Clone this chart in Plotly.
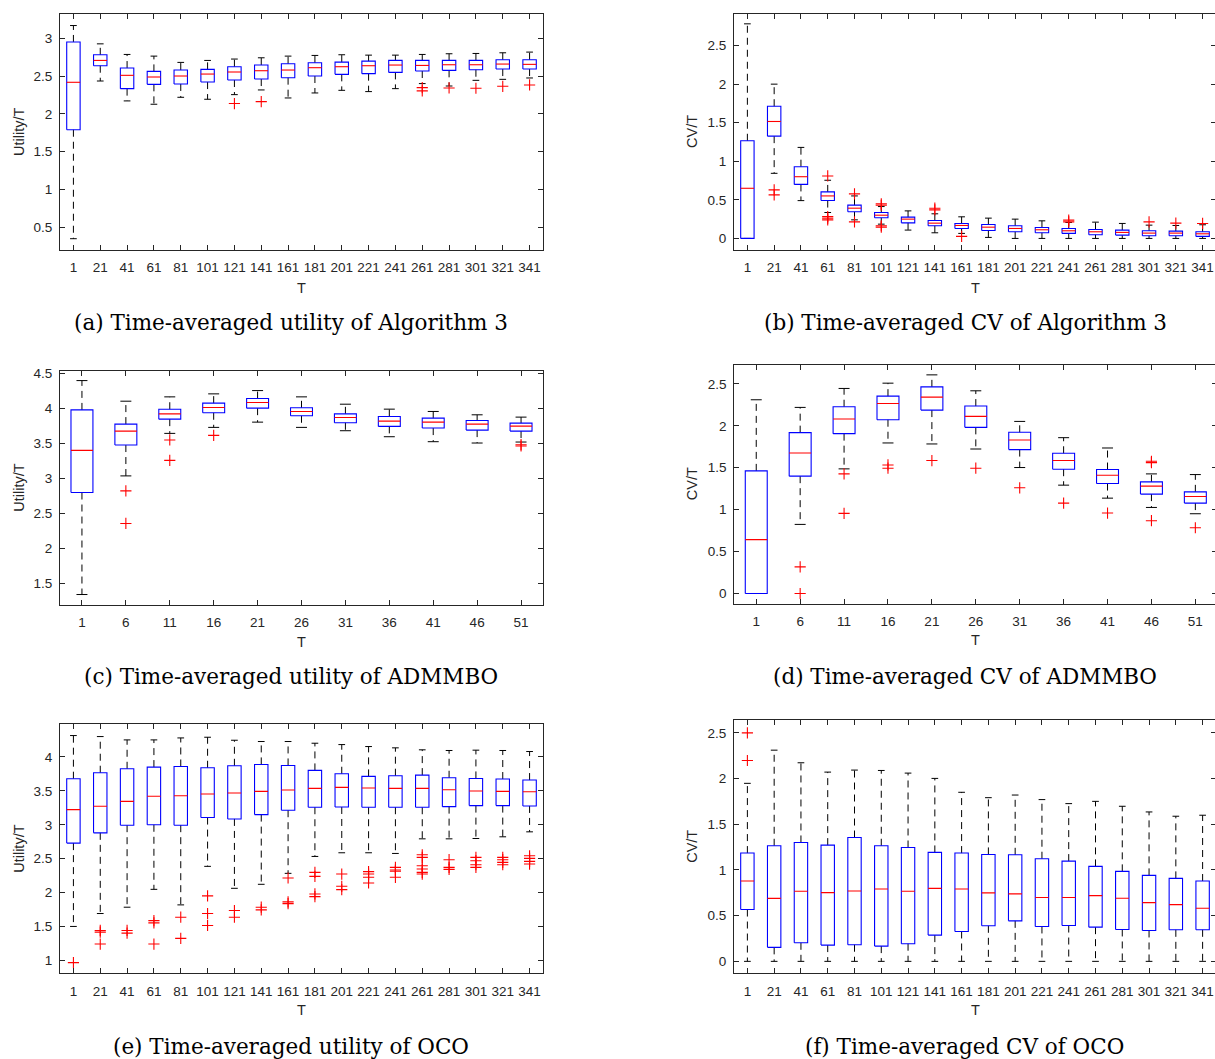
import plotly.graph_objects as go

# ---------------- data ----------------
T_LONG = ["1", "21", "41", "61", "81", "101", "121", "141", "161", "181",
          "201", "221", "241", "261", "281", "301", "321", "341"]
T_SHORT = ["1", "6", "11", "16", "21", "26", "31", "36", "41", "46", "51"]

# (a) Time-averaged utility of Algorithm 3
a_hi = [3.167, 2.925, 2.785, 2.763, 2.68, 2.706, 2.724, 2.741, 2.763, 2.772, 2.781, 2.776, 2.776, 2.785, 2.794, 2.798, 2.807, 2.816]
a_q3 = [2.95, 2.78, 2.605, 2.561, 2.579, 2.588, 2.623, 2.645, 2.662, 2.675, 2.684, 2.697, 2.706, 2.706, 2.706, 2.706, 2.715, 2.715]
a_med = [2.417, 2.706, 2.509, 2.487, 2.50, 2.526, 2.553, 2.57, 2.579, 2.61, 2.623, 2.636, 2.645, 2.64, 2.649, 2.649, 2.658, 2.654]
a_q1 = [1.79, 2.636, 2.333, 2.39, 2.395, 2.42, 2.447, 2.46, 2.478, 2.5, 2.522, 2.531, 2.548, 2.566, 2.575, 2.583, 2.592, 2.592]
a_lo = [0.35, 2.434, 2.171, 2.127, 2.219, 2.193, 2.254, 2.316, 2.21, 2.276, 2.311, 2.294, 2.333, 2.40, 2.368, 2.443, 2.456, 2.474]
a_out = [[], [], [], [], [], [], [2.136], [2.162], [], [], [], [], [], [2.346, 2.303], [2.342], [2.338], [2.364], [2.382]]

# (b) Time-averaged CV of Algorithm 3
b_hi = [2.782, 2.0, 1.18, 0.754, 0.551, 0.413, 0.357, 0.319, 0.28, 0.263, 0.25, 0.228, 0.207, 0.211, 0.194, 0.172, 0.168, 0.177]
b_q3 = [1.266, 1.714, 0.93, 0.603, 0.431, 0.336, 0.276, 0.233, 0.194, 0.181, 0.164, 0.142, 0.129, 0.116, 0.108, 0.099, 0.095, 0.086]
b_med = [0.65, 1.516, 0.80, 0.551, 0.392, 0.301, 0.25, 0.198, 0.168, 0.146, 0.129, 0.112, 0.099, 0.086, 0.078, 0.069, 0.069, 0.06]
b_q1 = [0.0, 1.326, 0.70, 0.491, 0.345, 0.267, 0.202, 0.164, 0.129, 0.103, 0.086, 0.073, 0.065, 0.047, 0.043, 0.034, 0.034, 0.026]
b_lo = [0.0, 0.844, 0.49, 0.336, 0.241, 0.185, 0.108, 0.073, 0.065, 0.013, 0.0, 0.0, 0.0, 0.0, 0.0, 0.0, 0.0, 0.0]
b_out = [[], [0.629, 0.564], [], [0.81, 0.284, 0.263, 0.241], [0.577, 0.215], [0.448, 0.43, 0.164, 0.146], [],
         [0.392, 0.37], [0.026], [], [], [], [0.237, 0.215], [], [], [0.215], [0.198], [0.194]]

# (c) Time-averaged utility of ADMMBO
c_hi = [4.40, 4.105, 4.167, 4.21, 4.257, 4.167, 4.062, 3.991, 3.958, 3.91, 3.877]
c_q3 = [3.98, 3.777, 3.99, 4.077, 4.143, 4.01, 3.924, 3.886, 3.862, 3.829, 3.791]
c_med = [3.40, 3.677, 3.924, 4.015, 4.086, 3.958, 3.872, 3.82, 3.805, 3.777, 3.748]
c_q1 = [2.797, 3.477, 3.848, 3.939, 4.005, 3.896, 3.796, 3.744, 3.72, 3.691, 3.677]
c_lo = [1.336, 3.035, 3.644, 3.73, 3.805, 3.73, 3.682, 3.596, 3.525, 3.506, 3.52]
c_out = [[], [2.82, 2.354], [3.55, 3.258], [3.615], [], [], [], [], [], [], [3.482, 3.463]]

# (d) Time-averaged CV of ADMMBO
d_hi = [2.31, 2.219, 2.445, 2.508, 2.607, 2.417, 2.052, 1.858, 1.735, 1.426, 1.418]
d_q3 = [1.462, 1.918, 2.227, 2.353, 2.464, 2.235, 1.922, 1.672, 1.478, 1.331, 1.212]
d_med = [0.642, 1.676, 2.08, 2.266, 2.342, 2.112, 1.83, 1.585, 1.41, 1.28, 1.157]
d_q1 = [0.0, 1.399, 1.906, 2.072, 2.187, 1.981, 1.716, 1.482, 1.311, 1.185, 1.078]
d_lo = [0.0, 0.824, 1.486, 1.795, 1.783, 1.723, 1.502, 1.292, 1.137, 1.026, 0.951]
d_out = [[], [0.317, 0.0], [1.426, 0.955], [1.533, 1.494], [1.585], [1.494], [1.26], [1.078], [0.959],
         [1.577, 1.561, 0.868], [0.784]]

# (e) Time-averaged utility of OCO
e_hi = [4.313, 4.298, 4.249, 4.249, 4.278, 4.288, 4.244, 4.225, 4.225, 4.2, 4.18, 4.151, 4.132, 4.103, 4.093, 4.098, 4.093, 4.078]
e_q3 = [3.678, 3.766, 3.824, 3.849, 3.858, 3.839, 3.868, 3.888, 3.873, 3.8, 3.751, 3.712, 3.722, 3.731, 3.692, 3.682, 3.673, 3.658]
e_med = [3.223, 3.272, 3.345, 3.419, 3.428, 3.453, 3.467, 3.492, 3.511, 3.536, 3.551, 3.541, 3.536, 3.536, 3.516, 3.497, 3.492, 3.487]
e_q1 = [2.73, 2.881, 2.994, 3.0, 2.994, 3.106, 3.086, 3.15, 3.214, 3.258, 3.262, 3.258, 3.258, 3.258, 3.267, 3.282, 3.282, 3.277]
e_lo = [1.504, 1.694, 1.787, 2.05, 1.821, 2.388, 2.065, 2.124, 2.285, 2.534, 2.588, 2.588, 2.578, 2.793, 2.793, 2.798, 2.823, 2.896]
e_out = [[0.971], [1.445, 1.42, 1.245], [1.445, 1.406], [1.59, 1.556, 1.245], [1.64, 1.328], [1.953, 1.694, 1.518],
         [1.738, 1.64], [1.787, 1.748], [2.217, 1.865, 1.84], [2.3, 2.241, 1.982, 1.943], [2.275, 2.095, 2.046],
         [2.31, 2.275, 2.227, 2.144], [2.373, 2.334, 2.315, 2.227], [2.559, 2.52, 2.398, 2.349, 2.3, 2.275],
         [2.486, 2.373, 2.344], [2.52, 2.471, 2.412, 2.373], [2.52, 2.486, 2.447, 2.412], [2.544, 2.505, 2.461, 2.422]]

# (f) Time-averaged CV of OCO
f_hi = [1.948, 2.311, 2.173, 2.071, 2.093, 2.089, 2.06, 2.002, 1.85, 1.791, 1.82, 1.77, 1.726, 1.751, 1.697, 1.635, 1.588, 1.599]
f_q3 = [1.185, 1.265, 1.301, 1.272, 1.355, 1.265, 1.246, 1.192, 1.185, 1.17, 1.166, 1.123, 1.097, 1.039, 0.985, 0.941, 0.908, 0.879]
f_med = [0.879, 0.689, 0.767, 0.752, 0.77, 0.792, 0.767, 0.799, 0.792, 0.749, 0.738, 0.698, 0.698, 0.719, 0.69, 0.643, 0.621, 0.581]
f_q1 = [0.567, 0.153, 0.203, 0.178, 0.182, 0.167, 0.193, 0.287, 0.327, 0.389, 0.443, 0.382, 0.392, 0.374, 0.349, 0.338, 0.345, 0.345]
f_lo = [0.0, 0.0, 0.0, 0.0, 0.0, 0.0, 0.0, 0.0, 0.0, 0.0, 0.0, 0.0, 0.0, 0.0, 0.0, 0.0, 0.0, 0.0]
f_out = [[2.5, 2.198], [], [], [], [], [], [], [], [], [], [], [], [], [], [], [], [], []]

Y_UTIL_A = [0.5, 1, 1.5, 2, 2.5, 3]
Y_UTIL_C = [1.5, 2, 2.5, 3, 3.5, 4, 4.5]
Y_UTIL_E = [1, 1.5, 2, 2.5, 3, 3.5, 4]
Y_CV = [0, 0.5, 1, 1.5, 2, 2.5]

CAPTIONS = ["(a) Time-averaged utility of Algorithm 3", "(b) Time-averaged CV of Algorithm 3",
            "(c) Time-averaged utility of ADMMBO", "(d) Time-averaged CV of ADMMBO",
            "(e) Time-averaged utility of OCO", "(f) Time-averaged CV of OCO"]

# ---------------- layout geometry (pixels) ----------------
W, H = 1220, 1059
panels = [
    dict(labels=T_LONG, data=(a_q1, a_med, a_q3, a_lo, a_hi, a_out), px=(60, 543), py=(10, 247),
         yr=(0.2, 3.32), yt=Y_UTIL_A, ytitle="Utility/T", ytx=19, cap=(291, 320), tx=(301.5, 285)),
    dict(labels=T_LONG, data=(b_q1, b_med, b_q3, b_lo, b_hi, b_out), px=(734, 1216), py=(10, 247),
         yr=(-0.151, 2.91), yt=Y_CV, ytitle="CV/T", ytx=692, cap=(965, 320), tx=(975, 285)),
    dict(labels=T_SHORT, data=(c_q1, c_med, c_q3, c_lo, c_hi, c_out), px=(60, 543), py=(368, 603),
         yr=(1.19, 4.543), yt=Y_UTIL_C, ytitle="Utility/T", ytx=19, cap=(291, 675), tx=(301, 640)),
    dict(labels=T_SHORT, data=(d_q1, d_med, d_q3, d_lo, d_hi, d_out), px=(734.3, 1217.3), py=(362, 602),
         yr=(-0.122, 2.729), yt=Y_CV, ytitle="CV/T", ytx=692, cap=(964.5, 675), tx=(975, 638)),
    dict(labels=T_LONG, data=(e_q1, e_med, e_q3, e_lo, e_hi, e_out), px=(60, 543), py=(723, 973),
         yr=(0.814, 4.479), yt=Y_UTIL_E, ytitle="Utility/T", ytx=19, cap=(291, 1046), tx=(301, 1010)),
    dict(labels=T_LONG, data=(f_q1, f_med, f_q3, f_lo, f_hi, f_out), px=(734, 1216), py=(719, 973),
         yr=(-0.131, 2.638), yt=Y_CV, ytitle="CV/T", ytx=692, cap=(964.5, 1046), tx=(975, 1010)),
]

AX = "#262626"
SANS = "Liberation Sans"
TICKFONT = dict(family=SANS, size=13.5, color=AX)

fig = go.Figure()


def fmt(v):
    return ("%g" % v)


annotations = []
for k, p in enumerate(panels, start=1):
    xa = "x" if k == 1 else "x%d" % k
    ya = "y" if k == 1 else "y%d" % k
    q1, med, q3, lo, hi, out = p["data"]
    n = len(p["labels"])
    pos = list(range(1, n + 1))
    hw, cw = 0.25, 0.125
    wx, wy, cx, cy, bx, by, mx, my, ox, oy = [], [], [], [], [], [], [], [], [], []
    for x, a, m, b, l, h, o in zip(pos, q1, med, q3, lo, hi, out):
        wx += [x, x, None, x, x, None]
        wy += [b, h, None, a, l, None]
        cx += [x - cw, x + cw, None, x - cw, x + cw, None]
        cy += [h, h, None, l, l, None]
        bx += [x - hw, x + hw, x + hw, x - hw, x - hw, None]
        by += [a, a, b, b, a, None]
        mx += [x - hw, x + hw, None]
        my += [m, m, None]
        ox += [x] * len(o)
        oy += list(o)
    common = dict(xaxis=xa, yaxis=ya, showlegend=False, hoverinfo="skip")
    fig.add_trace(go.Scatter(x=wx, y=wy, mode="lines",
                             line=dict(color="black", width=1, dash="7px,5px"), **common))
    fig.add_trace(go.Scatter(x=cx, y=cy, mode="lines", line=dict(color="black", width=1), **common))
    fig.add_trace(go.Scatter(x=bx, y=by, mode="lines", line=dict(color="#0000FF", width=1.1), **common))
    fig.add_trace(go.Scatter(x=mx, y=my, mode="lines", line=dict(color="#FF0000", width=1.1), **common))
    fig.add_trace(go.Scatter(x=ox, y=oy, mode="markers",
                             marker=dict(symbol="cross-thin", size=8, color="#FF0000",
                                         line=dict(color="#FF0000", width=1.1)), **common))

    x0, x1 = p["px"]
    y0, y1 = p["py"]
    xkey = "xaxis" if k == 1 else "xaxis%d" % k
    ykey = "yaxis" if k == 1 else "yaxis%d" % k
    fig.layout[xkey] = dict(
        domain=[x0 / W, x1 / W], anchor=ya, range=[0.5, n + 0.5],
        tickmode="array", tickvals=pos, ticktext=p["labels"],
        showline=True, linecolor=AX, linewidth=1, mirror="ticks",
        ticks="inside", ticklen=5, tickwidth=1, tickcolor=AX,
        showgrid=False, zeroline=False, tickfont=TICKFONT, ticklabelstandoff=5)
    fig.layout[ykey] = dict(
        domain=[1 - y1 / H, 1 - y0 / H], anchor=xa, range=list(p["yr"]),
        tickmode="array", tickvals=p["yt"], ticktext=[fmt(v) for v in p["yt"]],
        showline=True, linecolor=AX, linewidth=1, mirror="ticks",
        ticks="inside", ticklen=5, tickwidth=1, tickcolor=AX,
        showgrid=False, zeroline=False, tickfont=TICKFONT, ticklabelstandoff=4)

    # axis titles
    annotations.append(dict(x=p["tx"][0] / W, y=1 - p["tx"][1] / H, xref="paper", yref="paper",
                            text="T", showarrow=False, xanchor="center", yanchor="middle",
                            font=dict(family=SANS, size=14.5, color=AX)))
    annotations.append(dict(x=p["ytx"] / W, y=1 - ((y0 + y1) / 2) / H, xref="paper", yref="paper",
                            text=p["ytitle"], showarrow=False, textangle=-90,
                            xanchor="center", yanchor="middle",
                            font=dict(family=SANS, size=14.5, color=AX)))
    annotations.append(dict(x=p["cap"][0] / W, y=1 - p["cap"][1] / H, xref="paper", yref="paper",
                            text=CAPTIONS[k - 1], showarrow=False, xanchor="center", yanchor="middle",
                            font=dict(family="DejaVu Serif", size=21.5, color="black")))

fig.update_layout(width=W, height=H, margin=dict(l=0, r=0, t=0, b=0),
                  paper_bgcolor="white", plot_bgcolor="white",
                  annotations=annotations, showlegend=False)

fig.write_html("out.html", config={"displayModeBar": False},
               post_script="document.body.style.margin='0';document.body.style.overflow='hidden';"
                           "document.documentElement.style.overflow='hidden';")
